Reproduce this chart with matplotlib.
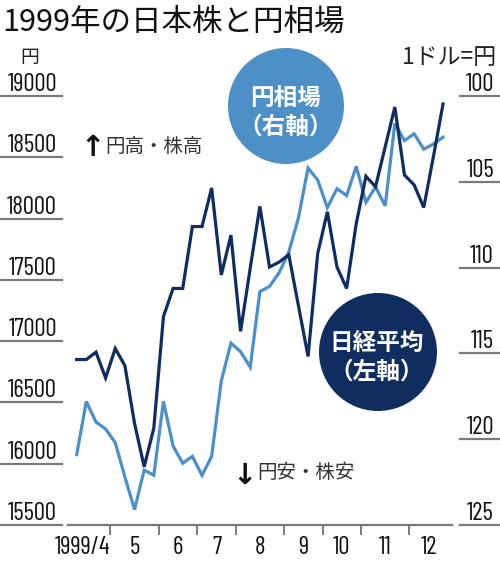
import numpy as np
import matplotlib
matplotlib.use("Agg")
import matplotlib.pyplot as plt
from matplotlib import transforms
from matplotlib.patches import Ellipse
from matplotlib.lines import Line2D
from matplotlib import font_manager
from matplotlib.font_manager import FontProperties
from matplotlib.textpath import TextToPath

# ---------------- data ----------------
month_labels = ["1999/4", "5", "6", "7", "8", "9", "10", "11", "12"]
weeks_per_month = [4, 5, 4, 4, 5, 4, 4, 5, 4]

nikkei = [16850, 16850, 16910, 16700, 16940, 16800, 16330, 15975, 16290,
          17200, 17430, 17430, 17935, 17935, 18250, 17540, 17865, 17080,
          17595, 18100, 17605, 17645, 17705, 17290, 16875, 17715, 18055,
          17605, 17430, 17960, 18345, 18260, 18585, 18910, 18355, 18275,
          18090, 18505, 18935]

yen = [120.9, 117.8, 119.0, 119.4, 120.2, 122.2, 124.1, 121.8, 122.1,
       117.8, 120.4, 121.4, 121.0, 122.1, 121.0, 116.6, 114.4, 114.9,
       115.8, 111.4, 111.1, 110.3, 109.1, 107.1, 104.2, 104.9, 106.5,
       105.4, 105.8, 104.1, 106.2, 105.3, 106.4, 101.6, 102.6, 102.2,
       103.1, 102.8, 102.4]

left_ticks = [15500, 16000, 16500, 17000, 17500, 18000, 18500, 19000]
right_ticks = [100, 105, 110, 115, 120, 125]

title = "1999年の日本株と円相場"
left_unit = "円"
right_unit = "1ドル=円"
yen_label = ["円相場", "（右軸）"]
nikkei_label = ["日経平均", "（左軸）"]
up_note = "円高・株高"
down_note = "円安・株安"

# ---------------- style ----------------
DARK = "#0f2d5e"
LIGHT = "#4d90c8"
GRAY = "#7a7a7a"
NUMCOL = "#111111"
CJK = ["Noto Sans CJK JP", "DejaVu Sans"]

# pick the narrowest available sans font for the numbers (reference uses condensed digits)
cands = []
for f in font_manager.fontManager.ttflist:
    nm = f.name
    cond = ("Narrow" in nm or "Condensed" in nm or str(f.stretch) in ("condensed", "semi-condensed", "75", "87"))
    if f.style == "normal" and f.weight in (400, "normal", "regular") and (cond or nm in ("Liberation Sans", "Roboto", "Inter", "Lato")):
        cands.append(f.fname)
t2p = TextToPath()
best = None
for fn in cands:
    try:
        fp = FontProperties(fname=fn, size=10)
        w, h, d = t2p.get_text_width_height_descent("19000", fp, ismath=False)
        wpx = w * 100 / 72
        size = min(18.0, 10 * 54.0 / wpx)
        if best is None or size > best[1]:
            best = (fn, size)
    except Exception:
        pass
if best is None:
    NUMFP = FontProperties(family=["Liberation Sans", "DejaVu Sans"])
    NUMSIZE = 15
else:
    NUMFP = FontProperties(fname=best[0])
    NUMSIZE = best[1]

def numprops():
    p = NUMFP.copy()
    p.set_size(NUMSIZE)
    return p

W, H = 500, 561
fig = plt.figure(figsize=(W / 100, H / 100), dpi=100)

def fx(px):
    return px / W

def fy(py):
    return 1 - py / H

ax_left, ax_right, ax_top, ax_bot = 68, 452, 96, 525
ax = fig.add_axes([fx(ax_left), fy(ax_bot), fx(ax_right - ax_left), (ax_bot - ax_top) / H])
ax2 = ax.twinx()

n = len(nikkei)
x = np.arange(n)

ax.plot(x, nikkei, color=DARK, lw=2.3, solid_joinstyle="miter", zorder=3)
ax2.plot(x, yen, color=LIGHT, lw=2.3, solid_joinstyle="miter", zorder=2)
ax.set_zorder(ax2.get_zorder() + 1)
ax.patch.set_visible(False)

ax.set_xlim(-0.9, n - 0.07)
ax.set_ylim(left_ticks[0], left_ticks[-1])
ax2.set_ylim(right_ticks[-1], right_ticks[0])

for a in (ax, ax2):
    for s in ("top", "left", "right"):
        a.spines[s].set_visible(False)
    a.set_yticks([])
ax2.spines["bottom"].set_visible(False)
ax.spines["bottom"].set_color(GRAY)
ax.spines["bottom"].set_linewidth(1.6)

starts = np.cumsum([0] + weeks_per_month)
bounds = starts[1:-1] - 0.5
ax.set_xticks(bounds)
ax.tick_params(axis="x", direction="out", length=7, width=1.4, color=GRAY, labelbottom=False)

# month labels
tb = transforms.blended_transform_factory(ax.transData, fig.transFigure)
for i, lab in enumerate(month_labels):
    if i == 0:
        ax.text(starts[1] - 0.55, fy(548), lab, transform=tb, ha="right", va="center",
                fontproperties=numprops(), color=NUMCOL, clip_on=False)
    else:
        c = (starts[i] + starts[i + 1] - 1) / 2
        ax.text(c, fy(548), lab, transform=tb, ha="center", va="center",
                fontproperties=numprops(), color=NUMCOL, clip_on=False)

# left y tick labels with underlines
tl = transforms.blended_transform_factory(fig.transFigure, ax.transData)
for v in left_ticks:
    ax.text(fx(57), v, f"{v}", transform=tl, ha="right", va="bottom",
            fontproperties=numprops(), color=NUMCOL, clip_on=False)
    ax.add_line(Line2D([fx(0), fx(62)], [v, v], transform=tl, color=GRAY, lw=1.6, clip_on=False))

tr = transforms.blended_transform_factory(fig.transFigure, ax2.transData)
for v in right_ticks:
    ax2.text(fx(494), v, f"{v}", transform=tr, ha="right", va="bottom",
             fontproperties=numprops(), color=NUMCOL, clip_on=False)
    ax2.add_line(Line2D([fx(460), fx(500)], [v, v], transform=tr, color=GRAY, lw=1.6, clip_on=False))

# titles and units
fig.text(fx(2), fy(22), title, ha="left", va="center", fontsize=22, family=CJK, color="#111")
fig.text(fx(30), fy(57), left_unit, ha="center", va="center", fontsize=13.5, family=CJK, color="#222")
fig.text(fx(496), fy(57), right_unit, ha="right", va="center", fontsize=16.5, family=CJK, color="#222")

# bubbles
fig.add_artist(Ellipse((fx(286), fy(106)), 116 / W, 116 / H, transform=fig.transFigure,
                       facecolor=LIGHT, edgecolor="none", zorder=5))
fig.text(fx(286), fy(99), yen_label[0], ha="center", va="center", fontsize=17,
         weight="bold", family=CJK, color="white", zorder=6)
fig.text(fx(286), fy(127), yen_label[1], ha="center", va="center", fontsize=17,
         weight="bold", family=CJK, color="white", zorder=6)

fig.add_artist(Ellipse((fx(378), fy(352)), 118 / W, 118 / H, transform=fig.transFigure,
                       facecolor=DARK, edgecolor="none", zorder=5))
fig.text(fx(377), fy(343), nikkei_label[0], ha="center", va="center", fontsize=17,
         weight="bold", family=CJK, color="white", zorder=6)
fig.text(fx(377), fy(372), nikkei_label[1], ha="center", va="center", fontsize=17,
         weight="bold", family=CJK, color="white", zorder=6)

# notes
fig.text(fx(93), fy(148), "↑", ha="center", va="center", fontsize=21, weight="bold",
         family=["DejaVu Sans"], color="#111")
fig.text(fx(105), fy(147), up_note, ha="left", va="center", fontsize=14, family=CJK, color="#333")
fig.text(fx(245), fy(476), "↓", ha="center", va="center", fontsize=21, weight="bold",
         family=["DejaVu Sans"], color="#111")
fig.text(fx(257), fy(473), down_note, ha="left", va="center", fontsize=14, family=CJK, color="#333")

fig.savefig("out.png", dpi=100, facecolor="white")
